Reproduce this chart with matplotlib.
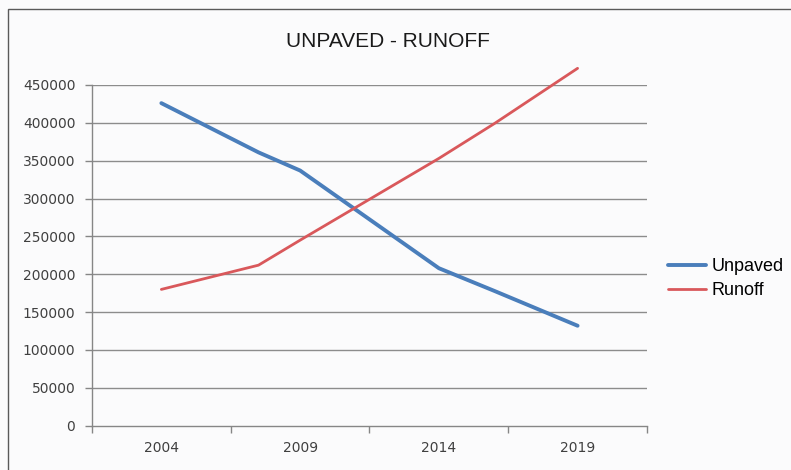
import matplotlib.pyplot as plt
from matplotlib.patches import Rectangle

plt.rcParams['font.family'] = ['Liberation Sans', 'DejaVu Sans']

# positions along the year axis (categories are 2004, 2009, 2014, 2019)
years = [2004, 2007.5, 2009, 2014, 2016, 2019]
unpaved = [426000, 361000, 337000, 208000, 178000, 132000]
runoff = [180000, 212000, 245000, 353000, 399000, 472000]

year_labels = ['2004', '2009', '2014', '2019']
year_ticks = [2004, 2009, 2014, 2019]
y_ticks = list(range(0, 450001, 50000))

fig = plt.figure(figsize=(7.91, 4.70), dpi=100)
fig.patch.set_facecolor('#fbfbfc')
ax = fig.add_axes([0.1163, 0.0943, 0.7016, 0.7249])
ax.set_facecolor('none')

ax.plot(years, unpaved, color='#4a7ebb', lw=2.8, label='Unpaved',
        solid_capstyle='round', solid_joinstyle='round', clip_on=False, zorder=3)
ax.plot(years, runoff, color='#d9585b', lw=2.0, label='Runoff',
        solid_capstyle='round', solid_joinstyle='round', clip_on=False, zorder=3)

ax.set_xlim(2001.5, 2021.5)
ax.set_ylim(0, 450000)

# horizontal gridlines
for v in y_ticks[1:]:
    ax.axhline(v, color='#8c8c8c', lw=1.0, zorder=1)

for s in ['top', 'right']:
    ax.spines[s].set_visible(False)
for s in ['left', 'bottom']:
    ax.spines[s].set_color('#868686')
    ax.spines[s].set_linewidth(1.0)

ax.set_yticks(y_ticks)
ax.set_yticklabels([str(v) for v in y_ticks], family='DejaVu Sans')
ax.tick_params(axis='y', length=5, width=1, color='#868686', pad=7,
               labelsize=10, labelcolor='#404040')

# category boundaries carry the tick marks, labels sit in between
ax.set_xticks([2001.5, 2006.5, 2011.5, 2016.5, 2021.5])
ax.set_xticklabels([])
ax.tick_params(axis='x', length=5, width=1, color='#868686')
for x, lab in zip(year_ticks, year_labels):
    ax.text(x, -30000, lab, ha='center', va='center', fontsize=10,
            color='#404040', family='DejaVu Sans')

fig.text(0.49, 0.912, 'UNPAVED - RUNOFF', ha='center', va='center',
         fontsize=15, color='#1a1a1a')

ax.legend(loc='center left', bbox_to_anchor=(0.845, 0.407),
          bbox_transform=fig.transFigure, frameon=False, fontsize=13,
          handlelength=2.1, handletextpad=0.3, labelspacing=0.4,
          borderaxespad=0, borderpad=0)

# chart area border
fig.patches.append(Rectangle((8 / 791, -0.1), 1.2, 1.1 - 9 / 470,
                             transform=fig.transFigure, fill=False,
                             edgecolor='#5a5a5a', lw=1.0))

fig.savefig('out.png', dpi=100)
